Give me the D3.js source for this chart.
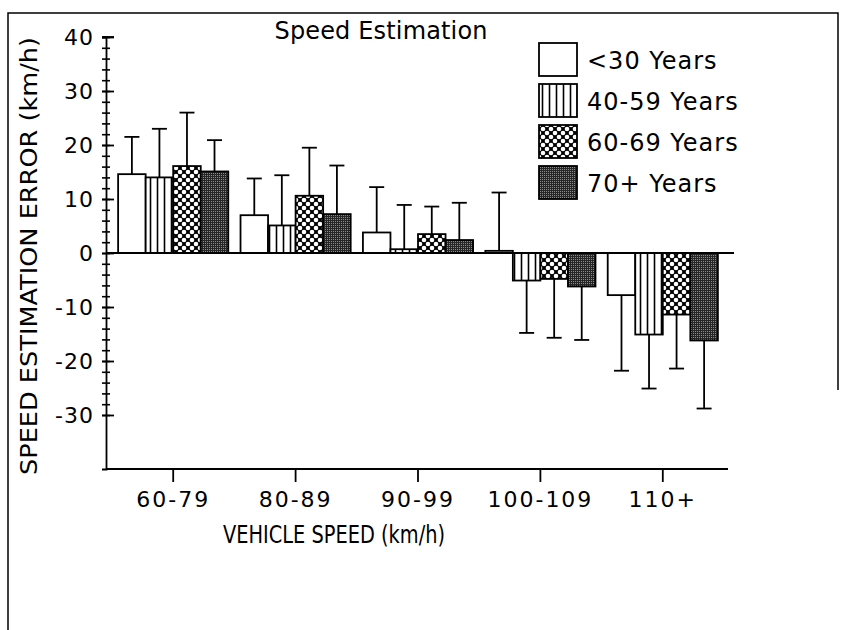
<!DOCTYPE html>
<html>
<head>
<meta charset="utf-8">
<script src="https://cdn.jsdelivr.net/npm/d3@7"></script>
<style>
  body { margin: 0; background: #fff; }
  text { font-family: "DejaVu Sans", sans-serif; fill: #000; }
</style>
</head>
<body>
<div id="chart"></div>
<script>
/*
 * Speed estimation error by vehicle speed and age group
 */

//vehicle speed categories (km/h)
var categories = ["60-79", "80-89", "90-99", "100-109", "110+"];

//age groups, in legend order
var groups = ["<30 Years", "40-59 Years", "60-69 Years", "70+ Years"];

//mean estimation error per age group (km/h)
var under30 = [14.6, 7.0, 3.8, 0.4, -7.8];
var age40to59 = [14.0, 5.1, 0.7, -5.1, -15.1];
var age60to69 = [16.1, 10.6, 3.5, -4.8, -11.4];
var age70plus = [15.1, 7.2, 2.4, -6.2, -16.2];

//standard deviations (one-sided error bars)
var under30Sd = [6.9, 6.8, 8.4, 10.8, 14.0];
var age40to59Sd = [9.0, 9.3, 8.2, 9.7, 10.0];
var age60to69Sd = [9.9, 8.9, 5.1, 10.9, 10.0];
var age70plusSd = [5.8, 9.0, 6.9, 9.9, 12.6];

//y axis tick labels
var yTicks = [-30, -20, -10, 0, 10, 20, 30, 40];
var yMinorTicks = d3.range(-30, 41, 2);

var means = [under30, age40to59, age60to69, age70plus];
var sds = [under30Sd, age40to59Sd, age60to69Sd, age70plusSd];
var fills = ["#fff", "url(#vlines)", "url(#dots)", "url(#stipple)"];

var width = 842,
    height = 630;

var svg = d3.select("#chart").append("svg")
    .attr("width", width)
    .attr("height", height)
    ;

/* fill patterns -- start */
var defs = svg.append("defs");

var vlines = defs.append("pattern")
    .attr("id", "vlines")
    .attr("patternUnits", "userSpaceOnUse")
    .attr("width", 7)
    .attr("height", 7)
    ;
vlines.append("rect").attr("width", 7).attr("height", 7).attr("fill", "#fff");
vlines.append("line")
    .attr("x1", 3.5).attr("x2", 3.5)
    .attr("y1", 0).attr("y2", 7)
    .attr("stroke", "#000")
    .attr("stroke-width", 1.6)
    ;

var dots = defs.append("pattern")
    .attr("id", "dots")
    .attr("patternUnits", "userSpaceOnUse")
    .attr("width", 8)
    .attr("height", 8)
    ;
dots.append("rect").attr("width", 8).attr("height", 8).attr("fill", "#000");
[[0, 0], [8, 0], [0, 8], [8, 8], [4, 4]].forEach(function(p) {
    dots.append("circle")
        .attr("cx", p[0])
        .attr("cy", p[1])
        .attr("r", 2.3)
        .attr("fill", "#fff")
        ;
});

var stipple = defs.append("pattern")
    .attr("id", "stipple")
    .attr("patternUnits", "userSpaceOnUse")
    .attr("width", 2)
    .attr("height", 2)
    ;
stipple.append("rect").attr("width", 2).attr("height", 2).attr("fill", "#262626");
stipple.append("rect").attr("x", 1).attr("y", 1).attr("width", 1).attr("height", 1).attr("fill", "#8c8c8c");
/* fill patterns -- end */

//scanned page frame
svg.append("path")
    .attr("d", "M8,630V13H838V390")
    .attr("fill", "none")
    .attr("stroke", "#000")
    .attr("stroke-width", 1.5)
    ;

var x = d3.scaleBand()
    .domain(categories)
    .range([112, 724])
    .paddingInner(0.1)
    .paddingOuter(0.05)
    ;

var xInner = d3.scaleBand()
    .domain(d3.range(groups.length))
    .range([0, x.bandwidth()])
    ;

var y = d3.scaleLinear()
    .domain([-40, 40])
    .range([469, 37])
    ;

var axisX = 106;

/* bars and error bars */
var cells = [];
categories.forEach(function(c, i) {
    groups.forEach(function(g, j) {
        cells.push({cat: c, group: j, mean: means[j][i], sd: sds[j][i]});
    });
});

var plot = svg.append("g");

plot.selectAll("rect.bar")
    .data(cells)
    .enter().append("rect")
    .attr("class", "bar")
    .attr("x", function(d) { return x(d.cat) + xInner(d.group); })
    .attr("width", xInner.bandwidth())
    .attr("y", function(d) { return y(Math.max(0, d.mean)); })
    .attr("height", function(d) { return Math.abs(y(d.mean) - y(0)); })
    .attr("fill", function(d) { return fills[d.group]; })
    .attr("stroke", "#000")
    .attr("stroke-width", 1.8)
    ;

var err = plot.selectAll("g.err")
    .data(cells)
    .enter().append("g")
    .attr("class", "err")
    .attr("transform", function(d) {
        return "translate(" + (x(d.cat) + xInner(d.group) + xInner.bandwidth() / 2) + ",0)";
    })
    ;
err.append("line")
    .attr("x1", 0).attr("x2", 0)
    .attr("y1", function(d) { return y(d.mean); })
    .attr("y2", function(d) { return y(d.mean + (d.mean >= 0 ? d.sd : -d.sd)); })
    .attr("stroke", "#000")
    .attr("stroke-width", 1.8)
    ;
err.append("line")
    .attr("x1", -7.5).attr("x2", 7.5)
    .attr("y1", function(d) { return y(d.mean + (d.mean >= 0 ? d.sd : -d.sd)); })
    .attr("y2", function(d) { return y(d.mean + (d.mean >= 0 ? d.sd : -d.sd)); })
    .attr("stroke", "#000")
    .attr("stroke-width", 1.8)
    ;

//zero line
svg.append("line")
    .attr("x1", axisX).attr("x2", 734)
    .attr("y1", y(0)).attr("y2", y(0))
    .attr("stroke", "#000")
    .attr("stroke-width", 1.8)
    ;

/* y axis */
var yAxisG = svg.append("g")
    .attr("transform", "translate(" + axisX + ",0)")
    .call(d3.axisLeft(y).tickValues(yTicks).tickSizeOuter(0).tickSize(4).tickPadding(8)
        .tickFormat(function(d) { return String(d); }))
    ;
yAxisG.select(".domain").attr("stroke-width", 1.8);
yAxisG.selectAll(".tick line").attr("x1", 8).attr("stroke-width", 1.8);
yAxisG.selectAll(".tick text")
    .style("font-family", "DejaVu Sans")
    .style("font-size", "22px")
    .style("letter-spacing", "1px")
    .attr("fill", "#000")
    ;

svg.append("g")
    .attr("transform", "translate(" + axisX + ",0)")
    .call(d3.axisLeft(y).tickValues(yMinorTicks).tickFormat("").tickSizeOuter(0).tickSize(4))
    .call(function(g) { g.select(".domain").remove(); })
    .selectAll(".tick line")
    .attr("x1", 4)
    .attr("stroke-width", 1.6)
    ;

//top cap of the y axis
svg.append("line")
    .attr("x1", axisX - 4).attr("x2", axisX + 8)
    .attr("y1", y(40)).attr("y2", y(40))
    .attr("stroke", "#000")
    .attr("stroke-width", 1.8)
    ;

/* x axis */
svg.append("line")
    .attr("x1", axisX).attr("x2", 728)
    .attr("y1", y(-40)).attr("y2", y(-40))
    .attr("stroke", "#000")
    .attr("stroke-width", 1.8)
    ;

var xAxisG = svg.append("g")
    .attr("transform", "translate(0," + y(-40) + ")")
    .call(d3.axisBottom(x).tickSize(13).tickSizeOuter(0))
    ;
xAxisG.select(".domain").remove();
xAxisG.selectAll(".tick line").attr("stroke-width", 1.8);
xAxisG.selectAll(".tick text")
    .attr("y", 38)
    .attr("dy", 0)
    .style("font-family", "DejaVu Sans")
    .style("font-size", "22px")
    .style("letter-spacing", "2px")
    .attr("fill", "#000")
    ;

/* titles */
svg.append("text")
    .text("Speed Estimation")
    .attr("x", 381)
    .attr("y", 39)
    .attr("text-anchor", "middle")
    .style("font-size", "24px")
    .attr("textLength", 213)
    ;

svg.append("text")
    .text("VEHICLE SPEED (km/h)")
    .attr("x", 334)
    .attr("y", 543)
    .attr("text-anchor", "middle")
    .style("font-size", "24px")
    .attr("textLength", 222)
    .attr("lengthAdjust", "spacingAndGlyphs")
    ;

svg.append("text")
    .text("SPEED ESTIMATION ERROR (km/h)")
    .attr("transform", "translate(37,256) rotate(-90)")
    .attr("text-anchor", "middle")
    .style("font-size", "23px")
    .attr("textLength", 438)
    .attr("lengthAdjust", "spacingAndGlyphs")
    ;

/* legend */
var legend = svg.selectAll("g.legend")
    .data(groups)
    .enter().append("g")
    .attr("class", "legend")
    .attr("transform", function(d, i) { return "translate(539," + (43 + 41 * i) + ")"; })
    ;
legend.append("rect")
    .attr("width", 38)
    .attr("height", 33)
    .attr("fill", function(d, i) { return fills[i]; })
    .attr("stroke", "#000")
    .attr("stroke-width", 1.8)
    ;
legend.append("text")
    .text(function(d) { return d; })
    .attr("x", 48)
    .attr("y", 26)
    .style("font-size", "24px")
    .style("letter-spacing", "1px")
    ;
</script>
</body>
</html>
